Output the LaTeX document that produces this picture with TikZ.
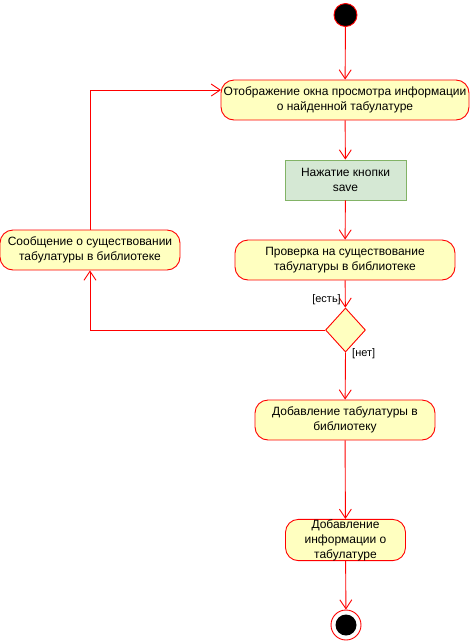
\documentclass[tikz,border=0pt]{standalone}
\usepackage{fontspec}
\setmainfont{Liberation Sans}
\usetikzlibrary{arrows.meta,shapes.geometric}
\definecolor{actfill}{HTML}{FFFFC0}
\definecolor{actline}{HTML}{FF0000}
\definecolor{btnfill}{HTML}{D5E8D4}
\definecolor{btnline}{HTML}{82B366}
\begin{document}
\begin{tikzpicture}[x=1pt,y=-1pt,
  every node/.style={font=\fontsize{12}{15}\selectfont, align=center, inner sep=0pt},
  activity/.style={draw=actline, fill=actfill, rounded corners=13pt, line width=0.9pt, minimum height=40pt},
  button/.style={draw=btnline, fill=btnfill, line width=0.9pt, minimum height=40pt},
  decision/.style={draw=actline, fill=actfill, diamond, line width=0.9pt, minimum width=40pt, minimum height=44pt},
  flow/.style={draw=actline, line width=0.9pt, -{Straight Barb[length=9pt,width=12pt,line width=0.9pt]}},
  guard/.style={font=\fontsize{11}{13}\selectfont}
]
\useasboundingbox (0,0) rectangle (471,641);

% start and end states
\node[circle, draw=actline, fill=black, line width=0.9pt, minimum size=23pt] (start) at (345.5,15) {};
\node[circle, draw=actline, fill=white, line width=0.9pt, minimum size=30pt] (stop) at (346,625) {};
\node[circle, fill=black, minimum size=21pt] (stopdot) at (346,625) {};

% actions
\node[activity, minimum width=248pt] (show) at (345,100) {Отображение окна просмотра информации\\о найденной табулатуре};
\node[button, minimum width=121pt] (save) at (345.5,180) {Нажатие кнопки\\save};
\node[activity, minimum width=220pt] (check) at (345,260) {Проверка на существование\\табулатуры в библиотеке};
\node[decision] (exists) at (345.5,330) {};
\node[activity, minimum width=180pt] (msg) at (90,250) {Сообщение о существовании\\табулатуры в библиотеке};
\node[activity, minimum width=180pt] (add) at (345,420) {Добавление табулатуры в\\библиотеку};
\node[activity, minimum width=120pt] (info) at (345.5,540) {Добавление\\информации о\\табулатуре};

% loop-back entry point
\coordinate (loopin) at (221,90);

% control flow
\draw[flow] (start) -- (show);
\draw[flow] (show) -- (save);
\draw[flow] (save) -- (check);
\draw[flow] (check) -- (exists);
\draw[flow] (exists.west) -| (msg.south);
\draw[flow] (msg.north) |- (loopin);
\draw[flow] (exists.south) -- (add);
\draw[flow] (add) -- (info);
\draw[flow] (info) -- (stop);

% guards
\node[guard, anchor=east] (yes) at (341,300) {[есть]};
\node[guard, anchor=west] (no) at (352,354) {[нет]};
\end{tikzpicture}
\end{document}
